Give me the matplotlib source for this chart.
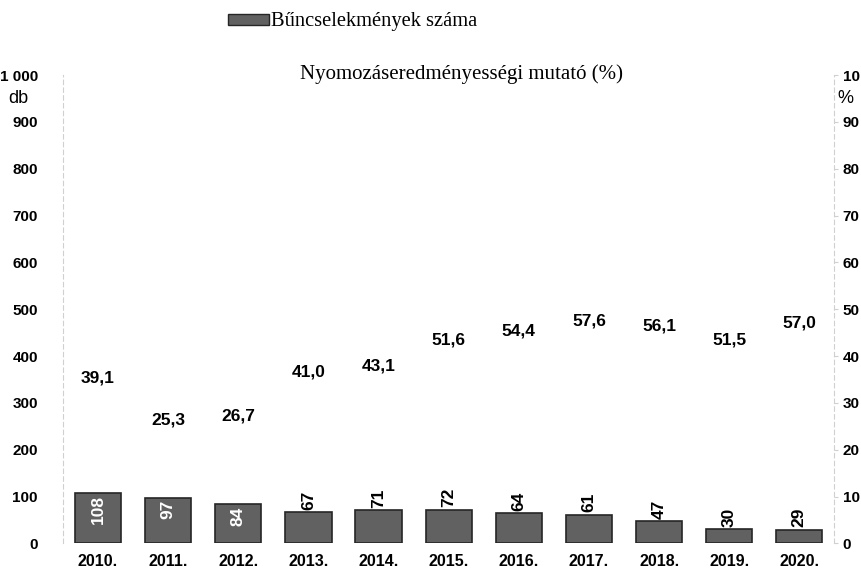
import matplotlib.pyplot as plt
import numpy as np
from matplotlib.patches import Patch

years = ["2010.", "2011.", "2012.", "2013.", "2014.", "2015.", "2016.", "2017.", "2018.", "2019.", "2020."]
crimes = [108, 97, 84, 67, 71, 72, 64, 61, 47, 30, 29]
rate = [39.1, 25.3, 26.7, 41.0, 43.1, 51.6, 54.4, 57.6, 56.1, 51.5, 57.0]
left_ticks = [0, 100, 200, 300, 400, 500, 600, 700, 800, 900, 1000]
left_labels = ["0", "100", "200", "300", "400", "500", "600", "700", "800", "900", "1 000"]
right_ticks = [0, 10, 20, 30, 40, 50, 60, 70, 80, 90, 100]
right_labels = ["0", "10", "20", "30", "40", "50", "60", "70", "80", "90", "10"]

num_font = ["Liberation Sans", "DejaVu Sans"]
serif = ["Liberation Serif", "DejaVu Serif"]

fig = plt.figure(figsize=(8.62, 5.78), dpi=100)
ax = fig.add_axes([0.073, 0.06, 0.895, 0.81])
x = np.arange(len(years))

ax.bar(x, crimes, width=0.66, color="#616161", edgecolor="#262626", linewidth=1.2)
for xi, v in zip(x, crimes):
    if v >= 80:
        ax.text(xi, v - 5, str(v), rotation=90, ha="center", va="top", color="white",
                fontsize=12.5, fontweight="bold", family=num_font)
    else:
        ax.text(xi, v + 5, str(v), rotation=90, ha="center", va="bottom", color="black",
                fontsize=12.5, fontweight="bold", family=num_font)

ax.set_xlim(-0.5, len(years) - 0.5)
ax.set_ylim(0, 1000)
ax.set_yticks(left_ticks)
ax.set_yticklabels(left_labels, family=num_font, fontweight="bold", fontsize=11)
ax.set_xticks(x)
ax.set_xticklabels(years, family=num_font, fontweight="bold", fontsize=11.5)
ax.tick_params(axis="x", length=0, pad=8)
ax.tick_params(axis="y", length=0, pad=18)
for s in ["top", "bottom", "right"]:
    ax.spines[s].set_visible(False)
ax.spines["left"].set_color("#d0d0d0")
ax.spines["left"].set_linestyle((0, (4, 3)))
ax.spines["left"].set_linewidth(0.8)

ax2 = ax.twinx()
ax2.set_ylim(0, 100)
ax2.set_yticks(right_ticks)
ax2.set_yticklabels(right_labels, family=num_font, fontweight="bold", fontsize=11)
ax2.tick_params(axis="y", length=3, color="#d0d0d0", pad=3)
for s in ["top", "bottom", "left"]:
    ax2.spines[s].set_visible(False)
ax2.spines["right"].set_color("#d0d0d0")
ax2.spines["right"].set_linestyle((0, (4, 3)))
ax2.spines["right"].set_linewidth(0.8)

# percentage labels (line itself not drawn in the original)
ax3 = ax.twinx()
ax3.set_ylim(-15, 138)
ax3.axis("off")
for xi, v in zip(x, rate):
    ax3.text(xi, v, f"{v:.1f}".replace(".", ","), ha="center", va="center",
             fontsize=12.5, fontweight="bold", family=num_font)

fig.text(0.009, 0.822, "db", fontsize=13, family=num_font)
fig.text(0.971, 0.822, "%", fontsize=13, family=num_font)

handles = [Patch(facecolor="#616161", edgecolor="#262626")]
fig.legend(handles, ["Bűncselekmények száma"], loc="center left", bbox_to_anchor=(0.243, 0.962),
           frameon=False, prop={"family": serif, "size": 14.8}, handlelength=2.0, handleheight=0.45,
           handletextpad=0.1)
fig.text(0.348, 0.872, "Nyomozáseredményességi mutató (%)", fontsize=15, family=serif, va="center")

fig.savefig("out.png", dpi=100)
